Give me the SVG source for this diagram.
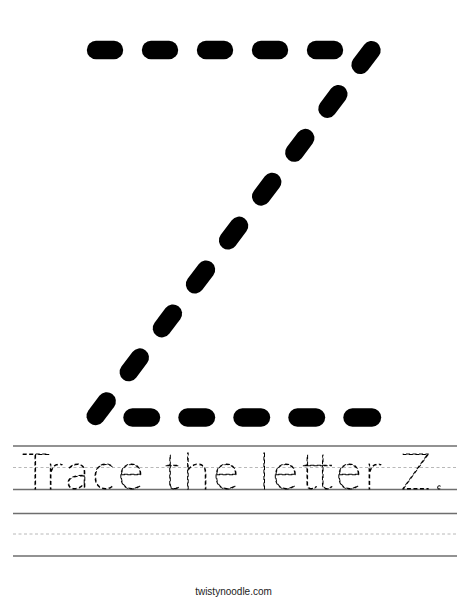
<svg xmlns="http://www.w3.org/2000/svg" width="468" height="605" viewBox="0 0 468 605">
<style>
.d{stroke:#000;stroke-width:18.4;stroke-linecap:round;fill:none}
.solid{stroke:#6e6e6e;stroke-width:1.4}
.guide{stroke:#b8b8b8;stroke-width:1;stroke-dasharray:3 2.5}
.trace{font-family:"Lato","Inter","Liberation Sans",sans-serif;font-weight:100;fill:none;stroke:#000;stroke-width:1;stroke-dasharray:4 2.5}
.foot{font-family:"Liberation Sans",Arial,sans-serif;font-size:10px;fill:#222}
</style>
<rect width="468" height="605" fill="#fff"/>
<g id="letter-Z">
<g id="top-stroke">
<line class="d" x1="96" y1="50" x2="114" y2="50"/>
<line class="d" x1="151" y1="50" x2="169" y2="50"/>
<line class="d" x1="206" y1="50" x2="224" y2="50"/>
<line class="d" x1="261" y1="50" x2="279" y2="50"/>
<line class="d" x1="316" y1="50" x2="334" y2="50"/>
</g>
<g id="diagonal-stroke">
<line class="d" x1="371.5" y1="50.2" x2="360.5" y2="64.8"/>
<line class="d" x1="338.4" y1="94.1" x2="327.4" y2="108.7"/>
<line class="d" x1="305.3" y1="138" x2="294.3" y2="152.6"/>
<line class="d" x1="272.2" y1="181.9" x2="261.2" y2="196.5"/>
<line class="d" x1="239.1" y1="225.8" x2="228.1" y2="240.4"/>
<line class="d" x1="206" y1="269.7" x2="195" y2="284.3"/>
<line class="d" x1="172.9" y1="313.6" x2="161.9" y2="328.2"/>
<line class="d" x1="139.8" y1="357.5" x2="128.8" y2="372.1"/>
<line class="d" x1="106.7" y1="401.4" x2="95.7" y2="416"/>
</g>
<g id="bottom-stroke">
<line class="d" x1="132.5" y1="417.5" x2="151" y2="417.5"/>
<line class="d" x1="187.5" y1="417.5" x2="206" y2="417.5"/>
<line class="d" x1="242.5" y1="417.5" x2="261" y2="417.5"/>
<line class="d" x1="297.5" y1="417.5" x2="316" y2="417.5"/>
<line class="d" x1="352.5" y1="417.5" x2="372" y2="417.5"/>
</g>
</g>
<g id="writing-lines">
<line class="solid" x1="13" y1="446" x2="457" y2="446"/>
<line class="guide" x1="13" y1="467.5" x2="457" y2="467.5"/>
<line class="solid" x1="13" y1="489.5" x2="457" y2="489.5"/>
<line class="solid" x1="13" y1="513.5" x2="457" y2="513.5"/>
<line class="guide" x1="13" y1="534" x2="457" y2="534"/>
<line class="solid" x1="13" y1="556" x2="457" y2="556"/>
</g>
<g id="trace-text">
<text class="trace" x="21" y="489" font-size="50" textLength="424" lengthAdjust="spacing">Trace the letter Z.</text>
</g>
<text class="foot" x="233.5" y="595" text-anchor="middle">twistynoodle.com</text>
</svg>
